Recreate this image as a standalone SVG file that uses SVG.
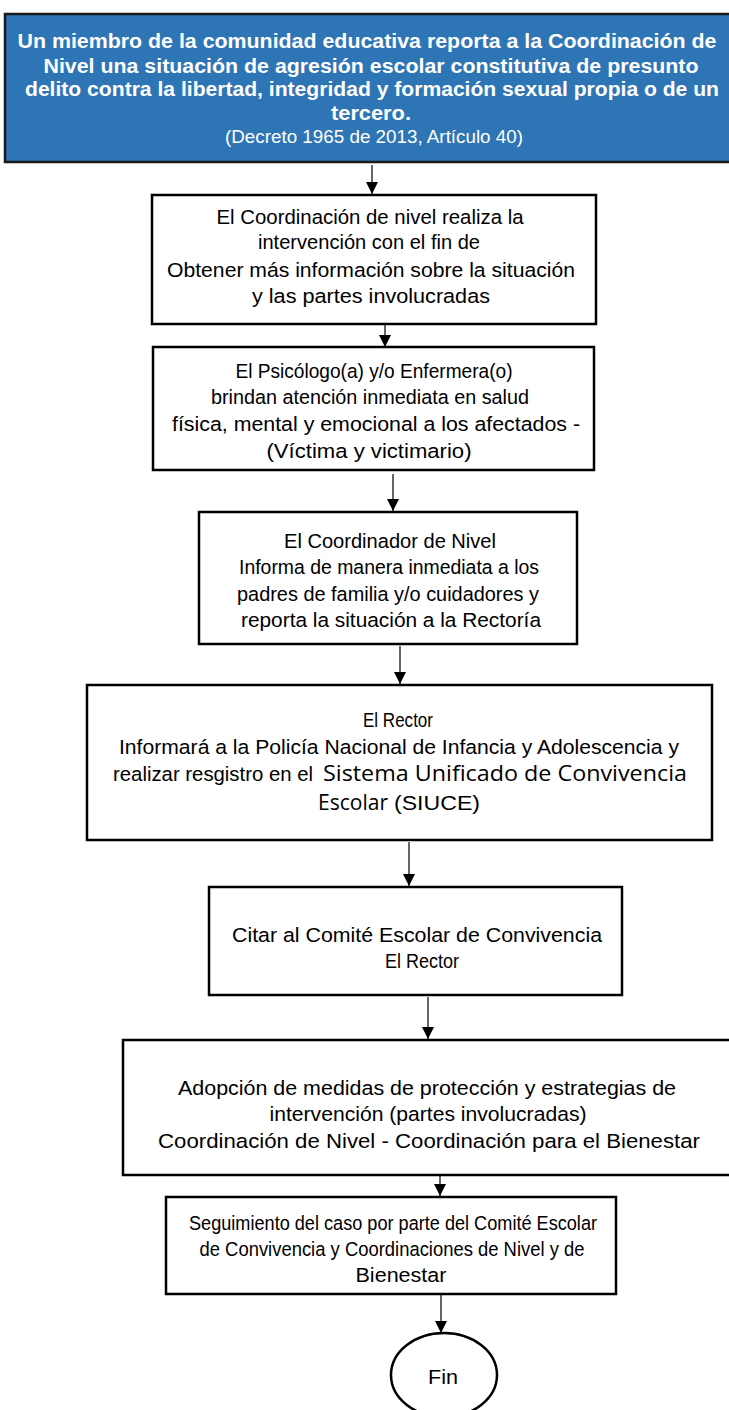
<svg xmlns="http://www.w3.org/2000/svg" width="729" height="1410" viewBox="0 0 729 1410">
<defs>
<marker id="ah" viewBox="0 0 12 12" refX="12" refY="6" markerWidth="12" markerHeight="12" markerUnits="userSpaceOnUse" orient="auto">
<path d="M0,0 L12,6 L0,12 z" fill="#000"/>
</marker>
</defs>
<style>
.box{fill:#fff;stroke:#000;stroke-width:2.5}
.top{fill:#2E75B6;stroke:#1a1a1a;stroke-width:2.5}
.t{font-family:"Liberation Sans",Arial,sans-serif;font-size:20.5px;fill:#000;text-anchor:middle}
.tb{font-family:"Liberation Sans",Arial,sans-serif;font-size:19.5px;font-weight:bold;fill:#fff;text-anchor:middle}
.tw{font-family:"Liberation Sans",Arial,sans-serif;font-size:18px;fill:#fff;text-anchor:middle}
.c{font-family:"Open Sans","Liberation Sans",sans-serif;font-size:21px}
.conn{stroke:#000;stroke-width:1.2;fill:none;marker-end:url(#ah)}
</style>
<rect width="729" height="1410" fill="#fff"/>
<g id="connectors">
<line class="conn" x1="372" y1="165" x2="372" y2="194"/>
<line class="conn" x1="385" y1="316" x2="385" y2="347"/>
<line class="conn" x1="393" y1="474" x2="393" y2="511"/>
<line class="conn" x1="400" y1="646" x2="400" y2="684"/>
<line class="conn" x1="409" y1="842" x2="409" y2="886"/>
<line class="conn" x1="428" y1="997" x2="428" y2="1039"/>
<line class="conn" x1="440" y1="1176" x2="440" y2="1196"/>
<line class="conn" x1="441" y1="1291" x2="441" y2="1333"/>
</g>
<g id="n1">
<rect class="top" x="5" y="14" width="740" height="148"/>
<text class="tb" x="367" y="48" textLength="699" lengthAdjust="spacingAndGlyphs">Un miembro de la comunidad educativa reporta a la Coordinación  de</text>
<text class="tb" x="371" y="73" textLength="655" lengthAdjust="spacingAndGlyphs">Nivel  una situación de agresión escolar constitutiva de presunto</text>
<text class="tb" x="372" y="96" textLength="694" lengthAdjust="spacingAndGlyphs">delito contra la libertad, integridad y formación sexual propia o de un</text>
<text class="tb" x="371" y="120" textLength="80" lengthAdjust="spacingAndGlyphs">tercero.</text>
<text class="tw" x="374" y="143" textLength="298" lengthAdjust="spacingAndGlyphs">(Decreto 1965 de 2013, Artículo 40)</text>
</g>
<g id="n2">
<rect class="box" x="152" y="195" width="444" height="129"/>
<text class="t" x="370" y="224" textLength="307" lengthAdjust="spacingAndGlyphs">El Coordinación de nivel realiza la</text>
<text class="t" x="369" y="249" textLength="222" lengthAdjust="spacingAndGlyphs">intervención con el fin de</text>
<text class="t" x="371" y="277" textLength="408" lengthAdjust="spacingAndGlyphs">Obtener más información sobre la situación</text>
<text class="t" x="371" y="303" textLength="238" lengthAdjust="spacingAndGlyphs">y  las partes involucradas</text>
</g>
<g id="n3">
<rect class="box" x="153" y="347" width="441" height="123"/>
<text class="t" x="374" y="378" textLength="277" lengthAdjust="spacingAndGlyphs">El Psicólogo(a) y/o Enfermera(o)</text>
<text class="t" x="370" y="404" textLength="318" lengthAdjust="spacingAndGlyphs">brindan atención inmediata en salud</text>
<text class="t" x="376" y="431" textLength="408" lengthAdjust="spacingAndGlyphs">física, mental y emocional a los afectados -</text>
<text class="t" x="369" y="458" textLength="205" lengthAdjust="spacingAndGlyphs">(Víctima y victimario)</text>
</g>
<g id="n4">
<rect class="box" x="199" y="512" width="378" height="132"/>
<text class="t" x="390" y="548" textLength="212" lengthAdjust="spacingAndGlyphs">El Coordinador de Nivel</text>
<text class="t" x="389" y="574" textLength="300" lengthAdjust="spacingAndGlyphs">Informa de manera inmediata a los</text>
<text class="t" x="388" y="601" textLength="302" lengthAdjust="spacingAndGlyphs">padres de familia y/o cuidadores y</text>
<text class="t" x="391" y="627" textLength="300" lengthAdjust="spacingAndGlyphs">reporta la situación a la Rectoría</text>
</g>
<g id="n5">
<rect class="box" x="87" y="685" width="625" height="155"/>
<text class="t" x="398" y="727" textLength="70" lengthAdjust="spacingAndGlyphs">El Rector</text>
<text class="t" x="399" y="754" textLength="560" lengthAdjust="spacingAndGlyphs">Informará a la Policía Nacional de Infancia y Adolescencia y</text>
<text class="t" x="213" y="781" textLength="200" lengthAdjust="spacingAndGlyphs">realizar resgistro en el</text>
<text class="t c" x="505" y="781" textLength="364" lengthAdjust="spacingAndGlyphs">Sistema Unificado de Convivencia</text>
<text class="t c" x="353" y="810" textLength="70" lengthAdjust="spacingAndGlyphs">Escolar</text>
<text class="t" x="437" y="810" textLength="86" lengthAdjust="spacingAndGlyphs">(SIUCE)</text>
</g>
<g id="n6">
<rect class="box" x="209" y="887" width="413" height="108"/>
<text class="t" x="417" y="942" textLength="370" lengthAdjust="spacingAndGlyphs">Citar al Comité Escolar de Convivencia</text>
<text class="t" x="422" y="968" textLength="74" lengthAdjust="spacingAndGlyphs">El Rector</text>
</g>
<g id="n7">
<rect class="box" x="123" y="1040" width="620" height="135"/>
<text class="t" x="427" y="1095" textLength="498" lengthAdjust="spacingAndGlyphs">Adopción de  medidas de protección y estrategias de</text>
<text class="t" x="428" y="1121" textLength="317" lengthAdjust="spacingAndGlyphs">intervención (partes involucradas)</text>
<text class="t" x="429" y="1148" textLength="542" lengthAdjust="spacingAndGlyphs">Coordinación de Nivel - Coordinación para el Bienestar</text>
</g>
<g id="n8">
<rect class="box" x="166" y="1197" width="450" height="97"/>
<text class="t" x="393" y="1230" textLength="408" lengthAdjust="spacingAndGlyphs">Seguimiento del caso por parte del Comité Escolar</text>
<text class="t" x="392" y="1256" textLength="385" lengthAdjust="spacingAndGlyphs">de Convivencia y Coordinaciones de Nivel y de</text>
<text class="t" x="401" y="1282" textLength="91" lengthAdjust="spacingAndGlyphs">Bienestar</text>
</g>
<g id="n9">
<ellipse class="box" cx="444" cy="1375" rx="53" ry="42"/>
<text class="t" x="443" y="1384" style="font-size:21px" textLength="30" lengthAdjust="spacingAndGlyphs">Fin</text>
</g>
</svg>
